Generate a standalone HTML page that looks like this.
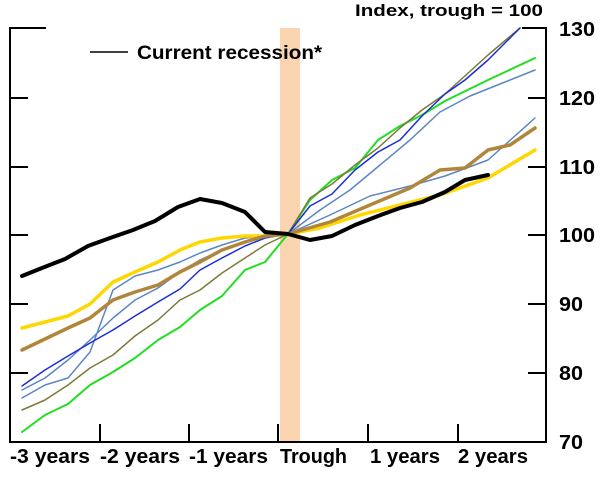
<!DOCTYPE html><html><head><style>body{margin:0;background:#fff}svg text{font-family:"Liberation Sans",Arial,sans-serif;font-weight:bold}</style></head><body>
<svg width="600" height="473" viewBox="0 0 600 473" xmlns="http://www.w3.org/2000/svg">
<rect x="280" y="28" width="20" height="414" fill="#fbd5b0"/>
<g fill="none" stroke-linejoin="round" stroke-linecap="round">
<polyline stroke="#5b86c4" stroke-width="1.5" points="22,398 45,385 68,378 90,352 113,290 135,276 158,270 180,262 200,253 222,245 245,238 265,236 288,234 330,215 370,196 410,186 445,176 488,160 535,118"/>
<polyline stroke="#5b86c4" stroke-width="1.5" points="22,390 45,378 68,360 90,340 113,318 135,300 158,288 180,272 200,260 222,250 245,242 265,237 288,234 320,210 350,190 380,165 410,140 440,112 470,96 500,84 535,70"/>
<polyline stroke="#22dd22" stroke-width="2" points="22,432 45,415 68,404 90,385 113,372 135,358 158,340 180,327 200,310 222,296 245,270 265,262 288,234 310,200 332,180 355,168 378,140 400,126 422,115 445,101 488,80 535,58"/>
<polyline stroke="#7a7a3a" stroke-width="1.5" points="22,410 45,400 68,385 90,368 113,355 135,336 158,320 180,300 200,290 222,273 245,258 265,245 288,234 310,198 332,184 355,165 378,148 400,128 422,110 445,94 488,55 520,28"/>
<polyline stroke="#1a2ed8" stroke-width="1.5" points="22,386 45,370 68,356 90,343 113,330 135,316 158,302 180,289 200,270 222,258 245,246 265,238 288,234 310,206 332,194 355,170 378,152 400,140 422,116 445,94 465,80 488,60 520,28"/>
<polyline stroke="#ffd700" stroke-width="3.5" points="22,328 45,322 68,316 90,304 113,282 135,272 158,262 180,250 200,242 222,238 245,236 265,236 288,234 320,228 360,215 400,205 440,195 488,178 535,150"/>
<polyline stroke="#b0873a" stroke-width="3.5" points="22,350 45,339 68,328 90,318 113,300 135,292 158,285 180,272 200,262 222,250 245,242 265,236 288,234 330,222 370,205 410,188 440,170 465,168 488,150 510,145 535,128"/>
<polyline stroke="#000" stroke-width="4" points="22,276 42,268 65,259 88,246 110,238 133,230 155,221 178,207 200,199 222,203 245,212 265,232 288,234 310,240 332,236 355,225 378,216 400,208 422,202 445,192 465,180 488,175"/>
</g>
<g stroke="#000" stroke-width="2" fill="none">
<polyline points="46,28 10,28 10,442 546,442 546,28 522,28"/>
<line x1="10" y1="98" x2="28" y2="98"/><line x1="10" y1="167" x2="28" y2="167"/><line x1="10" y1="235" x2="28" y2="235"/><line x1="10" y1="304" x2="28" y2="304"/><line x1="10" y1="373" x2="28" y2="373"/>
<line x1="546" y1="98" x2="528" y2="98"/><line x1="546" y1="167" x2="528" y2="167"/><line x1="546" y1="235" x2="528" y2="235"/><line x1="546" y1="304" x2="528" y2="304"/><line x1="546" y1="373" x2="528" y2="373"/>
<line x1="100" y1="442" x2="100" y2="424"/><line x1="189" y1="442" x2="189" y2="424"/><line x1="278" y1="442" x2="278" y2="424"/><line x1="368" y1="442" x2="368" y2="424"/><line x1="458" y1="442" x2="458" y2="424"/>
<line x1="90" y1="52" x2="128" y2="52" stroke-width="1.5"/>
</g>
<text x="137" y="59" font-size="19" textLength="185" lengthAdjust="spacingAndGlyphs">Current recession*</text>
<text x="355" y="16" font-size="17" textLength="188" lengthAdjust="spacingAndGlyphs">Index, trough = 100</text>
<g font-size="20">
<text x="559" y="36" textLength="36" lengthAdjust="spacingAndGlyphs">130</text><text x="559" y="105" textLength="36" lengthAdjust="spacingAndGlyphs">120</text><text x="559" y="174" textLength="36" lengthAdjust="spacingAndGlyphs">110</text><text x="559" y="242" textLength="36" lengthAdjust="spacingAndGlyphs">100</text><text x="559" y="311" textLength="24" lengthAdjust="spacingAndGlyphs">90</text><text x="559" y="380" textLength="24" lengthAdjust="spacingAndGlyphs">80</text><text x="559" y="449" textLength="24" lengthAdjust="spacingAndGlyphs">70</text>
</g>
<g font-size="20">
<text x="10" y="463" textLength="80" lengthAdjust="spacingAndGlyphs">-3 years</text><text x="100" y="463" textLength="80" lengthAdjust="spacingAndGlyphs">-2 years</text><text x="189" y="463" textLength="79" lengthAdjust="spacingAndGlyphs">-1 years</text><text x="280" y="463" textLength="67" lengthAdjust="spacingAndGlyphs">Trough</text><text x="370" y="463" textLength="70" lengthAdjust="spacingAndGlyphs">1 years</text><text x="458" y="463" textLength="70" lengthAdjust="spacingAndGlyphs">2 years</text>
</g>
</svg></body></html>
